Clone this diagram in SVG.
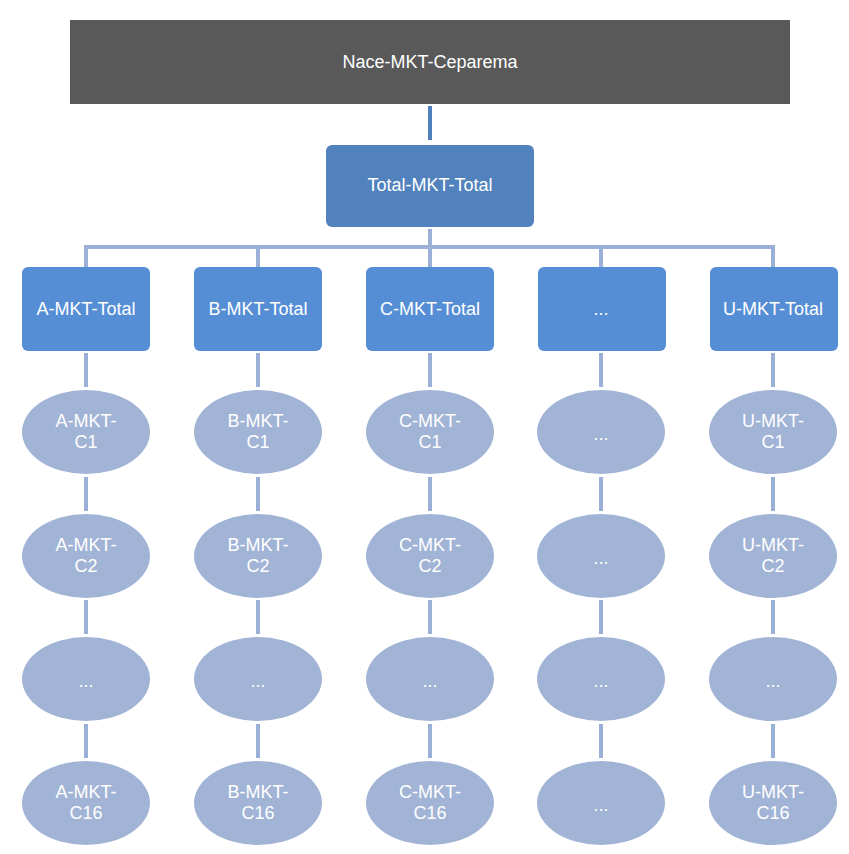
<svg xmlns="http://www.w3.org/2000/svg" width="849" height="854" viewBox="0 0 849 854">
<style>
text{font-family:"Liberation Sans",Arial,sans-serif;font-size:18px;fill:#ffffff;text-anchor:middle;dominant-baseline:central}
.l2{fill:#558ed5}
.el{fill:#a2b4d6}
.c{stroke:#9ab0d6;stroke-width:4;fill:none}
</style>
<rect width="849" height="854" fill="#ffffff"/>
<g id="connectors">
<line x1="430" y1="106" x2="430" y2="140" stroke="#4f7fbd" stroke-width="4"/>
<path class="c" d="M430 229V247M86 267V247H773V267M258 247V267M430 247V267M601 247V267"/>
<path class="c" d="M86 353V387M86 477V511M86 600V634M86 724V758"/>
<path class="c" d="M258 353V387M258 477V511M258 600V634M258 724V758"/>
<path class="c" d="M430 353V387M430 477V511M430 600V634M430 724V758"/>
<path class="c" d="M601 353V387M601 477V511M601 600V634M601 724V758"/>
<path class="c" d="M773 353V387M773 477V511M773 600V634M773 724V758"/>
</g>
<g id="root"><rect x="70" y="20" width="720" height="84" fill="#595959"/><text x="430" y="62">Nace-MKT-Ceparema</text></g>
<g id="total"><rect x="326" y="145" width="208" height="82" rx="6" fill="#5182bd"/><text x="430" y="185">Total-MKT-Total</text></g>
<g id="A-total"><rect class="l2" x="22" y="267" width="128" height="84" rx="6"/><text x="86" y="309">A-MKT-Total</text></g>
<g id="B-total"><rect class="l2" x="194" y="267" width="128" height="84" rx="6"/><text x="258" y="309">B-MKT-Total</text></g>
<g id="C-total"><rect class="l2" x="366" y="267" width="128" height="84" rx="6"/><text x="430" y="309">C-MKT-Total</text></g>
<g id="X-total"><rect class="l2" x="538" y="267" width="128" height="84" rx="6"/><text x="601" y="309">...</text></g>
<g id="U-total"><rect class="l2" x="710" y="267" width="128" height="84" rx="6"/><text x="773" y="309">U-MKT-Total</text></g>
<g id="A-C1"><ellipse class="el" cx="86" cy="432" rx="64" ry="42"/><text x="86" y="421">A-MKT-</text><text x="86" y="442">C1</text></g>
<g id="A-C2"><ellipse class="el" cx="86" cy="556" rx="64" ry="42"/><text x="86" y="545">A-MKT-</text><text x="86" y="566">C2</text></g>
<g id="A-X"><ellipse class="el" cx="86" cy="679" rx="64" ry="42"/><text x="86" y="681">...</text></g>
<g id="A-C16"><ellipse class="el" cx="86" cy="803" rx="64" ry="42"/><text x="86" y="792">A-MKT-</text><text x="86" y="813">C16</text></g>
<g id="B-C1"><ellipse class="el" cx="258" cy="432" rx="64" ry="42"/><text x="258" y="421">B-MKT-</text><text x="258" y="442">C1</text></g>
<g id="B-C2"><ellipse class="el" cx="258" cy="556" rx="64" ry="42"/><text x="258" y="545">B-MKT-</text><text x="258" y="566">C2</text></g>
<g id="B-X"><ellipse class="el" cx="258" cy="679" rx="64" ry="42"/><text x="258" y="681">...</text></g>
<g id="B-C16"><ellipse class="el" cx="258" cy="803" rx="64" ry="42"/><text x="258" y="792">B-MKT-</text><text x="258" y="813">C16</text></g>
<g id="C-C1"><ellipse class="el" cx="430" cy="432" rx="64" ry="42"/><text x="430" y="421">C-MKT-</text><text x="430" y="442">C1</text></g>
<g id="C-C2"><ellipse class="el" cx="430" cy="556" rx="64" ry="42"/><text x="430" y="545">C-MKT-</text><text x="430" y="566">C2</text></g>
<g id="C-X"><ellipse class="el" cx="430" cy="679" rx="64" ry="42"/><text x="430" y="681">...</text></g>
<g id="C-C16"><ellipse class="el" cx="430" cy="803" rx="64" ry="42"/><text x="430" y="792">C-MKT-</text><text x="430" y="813">C16</text></g>
<g id="X-1"><ellipse class="el" cx="601" cy="432" rx="64" ry="42"/><text x="601" y="434">...</text></g>
<g id="X-2"><ellipse class="el" cx="601" cy="556" rx="64" ry="42"/><text x="601" y="558">...</text></g>
<g id="X-3"><ellipse class="el" cx="601" cy="679" rx="64" ry="42"/><text x="601" y="681">...</text></g>
<g id="X-4"><ellipse class="el" cx="601" cy="803" rx="64" ry="42"/><text x="601" y="805">...</text></g>
<g id="U-C1"><ellipse class="el" cx="773" cy="432" rx="64" ry="42"/><text x="773" y="421">U-MKT-</text><text x="773" y="442">C1</text></g>
<g id="U-C2"><ellipse class="el" cx="773" cy="556" rx="64" ry="42"/><text x="773" y="545">U-MKT-</text><text x="773" y="566">C2</text></g>
<g id="U-X"><ellipse class="el" cx="773" cy="679" rx="64" ry="42"/><text x="773" y="681">...</text></g>
<g id="U-C16"><ellipse class="el" cx="773" cy="803" rx="64" ry="42"/><text x="773" y="792">U-MKT-</text><text x="773" y="813">C16</text></g>
</svg>
